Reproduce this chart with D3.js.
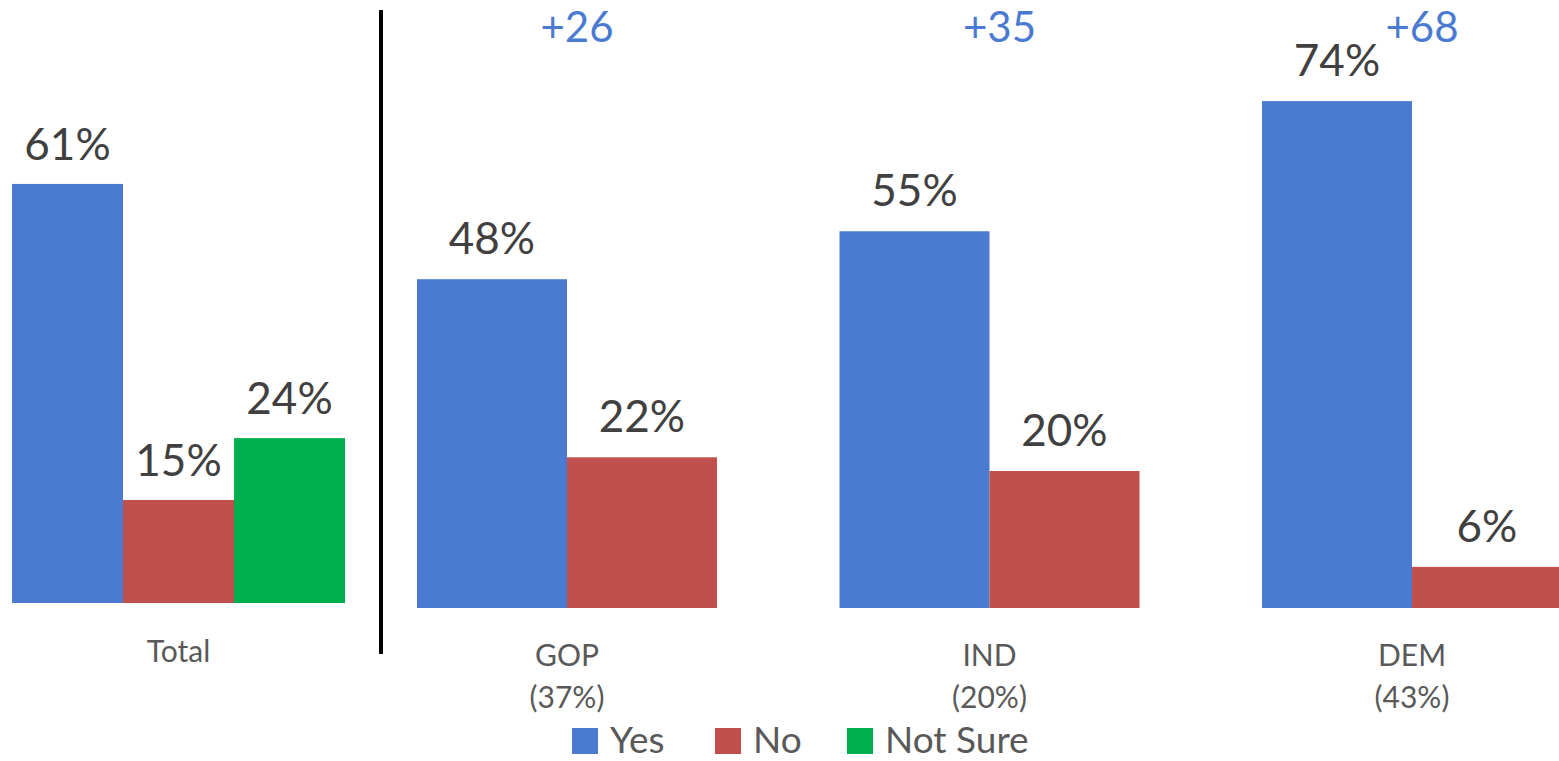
<!DOCTYPE html>
<html>
<head>
<meta charset="utf-8">
<script src="https://cdn.jsdelivr.net/npm/d3@7"></script>
<style>
  body { margin: 0; background: #fff; }
  svg text { font-family: Lato, "Open Sans", sans-serif; }
</style>
</head>
<body>
<svg id="chart"></svg>
<script>
// data
const answers = ['Yes', 'No', 'Not Sure'];
const totalValues = [61, 15, 24];
const groups = ['GOP', 'IND', 'DEM'];
const groupShares = ['(37%)', '(20%)', '(43%)'];
const yesValues = [48, 55, 74];
const noValues = [22, 20, 6];
const margins = ['+26', '+35', '+68'];

const colors = { 'Yes': '#4a7bd0', 'No': '#c0504d', 'Not Sure': '#00b050' };
const width = 1559, height = 761;

const svg = d3.select('#chart').attr('width', width).attr('height', height);

// left panel: total
const xTotal = d3.scaleBand().domain(answers).range([12, 345]).padding(0);
const yLeft = d3.scaleLinear().domain([0, 100]).range([603, 603 - 687]);

svg.selectAll('rect.total')
    .data(answers)
    .join('rect')
    .attr('class', 'total')
    .attr('x', d => xTotal(d))
    .attr('width', xTotal.bandwidth())
    .attr('y', (d, i) => yLeft(totalValues[i]))
    .attr('height', (d, i) => yLeft(0) - yLeft(totalValues[i]))
    .attr('fill', d => colors[d]);

svg.selectAll('text.totalLabel')
    .data(answers)
    .join('text')
    .attr('class', 'totalLabel')
    .attr('x', d => xTotal(d) + xTotal.bandwidth() / 2)
    .attr('y', (d, i) => yLeft(totalValues[i]) - 24)
    .attr('text-anchor', 'middle')
    .attr('font-size', 44)
    .attr('fill', '#404040')
    .text((d, i) => totalValues[i] + '%');

svg.append('text')
    .attr('x', (xTotal.range()[0] + xTotal.range()[1]) / 2)
    .attr('y', 662)
    .attr('text-anchor', 'middle')
    .attr('font-size', 30)
    .attr('fill', '#595959')
    .text('Total');

// divider
svg.append('line')
    .attr('x1', 381).attr('x2', 381)
    .attr('y1', 10).attr('y2', 654)
    .attr('stroke', '#000')
    .attr('stroke-width', 4);

// right panel: by party
const xGroup = d3.scaleBand().domain(groups).range([417, 1562]).paddingInner(0.29).paddingOuter(0);
const xSub = d3.scaleBand().domain(['Yes', 'No']).range([0, xGroup.bandwidth()]);
const yRight = d3.scaleLinear().domain([0, 100]).range([608, 608 - 685]);

const partyRows = [];
groups.forEach((g, i) => {
    partyRows.push({ group: g, key: 'Yes', value: yesValues[i] });
    partyRows.push({ group: g, key: 'No', value: noValues[i] });
});

svg.selectAll('rect.party')
    .data(partyRows)
    .join('rect')
    .attr('class', 'party')
    .attr('x', d => xGroup(d.group) + xSub(d.key))
    .attr('width', xSub.bandwidth())
    .attr('y', d => yRight(d.value))
    .attr('height', d => yRight(0) - yRight(d.value))
    .attr('fill', d => colors[d.key]);

svg.selectAll('text.partyLabel')
    .data(partyRows)
    .join('text')
    .attr('class', 'partyLabel')
    .attr('x', d => xGroup(d.group) + xSub(d.key) + xSub.bandwidth() / 2)
    .attr('y', d => yRight(d.value) - 25)
    .attr('text-anchor', 'middle')
    .attr('font-size', 44)
    .attr('fill', '#404040')
    .text(d => d.value + '%');

// margin labels
svg.selectAll('text.margin')
    .data(groups)
    .join('text')
    .attr('class', 'margin')
    .attr('x', d => xGroup(d) + xGroup.bandwidth() / 2 + 10)
    .attr('y', 42)
    .attr('text-anchor', 'middle')
    .attr('font-size', 42)
    .attr('fill', '#4a7bd0')
    .text((d, i) => margins[i]);

// group labels
const groupLabels = svg.selectAll('text.groupLabel')
    .data(groups)
    .join('text')
    .attr('class', 'groupLabel')
    .attr('text-anchor', 'middle')
    .attr('font-size', 30)
    .attr('fill', '#595959');
groupLabels.append('tspan')
    .attr('x', d => xGroup(d) + xGroup.bandwidth() / 2)
    .attr('y', 666)
    .text(d => d);
groupLabels.append('tspan')
    .attr('x', d => xGroup(d) + xGroup.bandwidth() / 2)
    .attr('y', 708)
    .text((d, i) => groupShares[i]);

// legend
const legendX = [572, 715, 847];
const legend = svg.selectAll('g.legend')
    .data(answers)
    .join('g')
    .attr('class', 'legend')
    .attr('transform', (d, i) => `translate(${legendX[i]},728)`);
legend.append('rect')
    .attr('width', 26)
    .attr('height', 26)
    .attr('fill', d => colors[d]);
legend.append('text')
    .attr('x', 38)
    .attr('y', 25)
    .attr('font-size', 37)
    .attr('fill', '#595959')
    .text(d => d);
</script>
</body>
</html>
